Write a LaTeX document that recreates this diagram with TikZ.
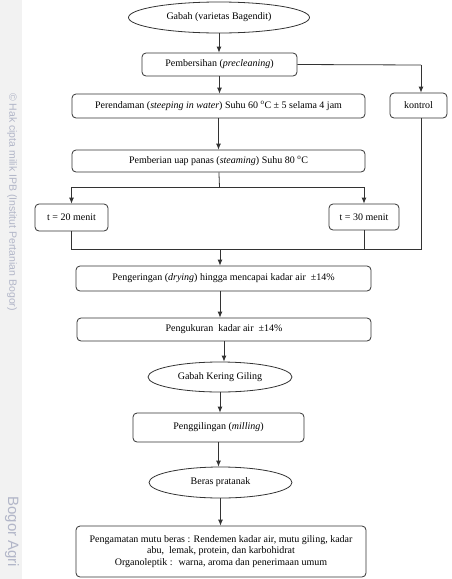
\documentclass[tikz,border=0pt]{standalone}
\usepackage{fontspec}
\setmainfont{Liberation Serif}
\newfontfamily\wmfont{Liberation Sans}
\usetikzlibrary{arrows.meta,shapes}
\definecolor{wmgray}{RGB}{242,242,242}
\definecolor{wmtext}{RGB}{178,182,200}
\tikzstyle{proses}=[draw=black!80,rounded corners=4pt,inner sep=1pt,align=center,font=\fontsize{10}{11.5}\selectfont]
\tikzstyle{produk}=[ellipse,draw=black!80,inner sep=0pt,font=\fontsize{10}{11.5}\selectfont]
\tikzstyle{edge} = [draw,black!80,-{Latex[length=6pt,width=5pt]}]
\tikzstyle{garis} = [draw,black!80]
\tikzstyle{watermark} = [wmtext,rotate=-90,inner sep=0pt]

\begin{document}
\begin{tikzpicture}[x=1pt,y=-1pt,line width=0.8pt]

    \useasboundingbox (0,0) rectangle (451,579);

    % watermark strip
    \fill[wmgray] (0,0) rectangle (22,579);
    \node[watermark,font=\wmfont\fontsize{10.5}{12}\selectfont] (hakcipta) at (12,202) {\textcopyright\ Hak cipta milik IPB (Institut Pertanian Bogor)};
    \node[watermark,font=\wmfont\fontsize{15}{17}\selectfont,anchor=west] (bogor) at (12,496) {Bogor Agri};

    % ellipses
    \foreach \name/\x/\y/\w/\h/\teks in {gabah/219/17.5/181/31/{Gabah (varietas Bagendit)},
        gkg/220/377/144/30/{Gabah Kering Giling},
        beras/220.5/482.5/143/31/{Beras pratanak}}
        \node[produk, minimum width=\w, minimum height=\h] (\name) at (\x,\y) {\teks};

    % process boxes
    \foreach \name/\x/\y/\w/\h/\teks in {bersih/219.5/64.5/155/23/{Pembersihan (\textit{precleaning})},
        rendam/218.5/106/293/24/{Perendaman (\textit{steeping in water}) Suhu 60 \textsuperscript{o}C ± 5 selama 4 jam},
        kontrol/418.5/105.5/57/25/{kontrol},
        uap/218.5/161/293/22/{Pemberian uap panas (\textit{steaming}) Suhu 80 \textsuperscript{o}C},
        t20/71.5/217.5/73/27/{t = 20 menit},
        t30/364/217/70/26/{t = 30 menit},
        kering/223.5/278.5/295/25/{Pengeringan (\textit{drying}) hingga mencapai kadar air \ ±14\%},
        ukur/224/329.5/294/23/{Pengukuran \ kadar air \ ±14\%},
        giling/218.5/427.5/171/29/{Penggilingan (\textit{milling})},
        amat/221/551.5/290/51/{Pengamatan mutu beras : Rendemen kadar air, mutu giling, kadar\\abu, \ lemak, protein, dan karbohidrat\\Organoleptik : \ warna, aroma dan penerimaan umum}}
        \node[proses, minimum width=\w, minimum height=\h] (\name) at (\x,\y) {\teks};

    \coordinate (cabang) at (219.5,187);
    \coordinate (gabung) at (220,249);
    \coordinate (belok) at (421,65);

    % main column
    \foreach \source/ \dest in {gabah/bersih, bersih/rendam, rendam/uap, ukur/gkg, gkg/giling, giling/beras, beras/amat}
        \path[edge] (\source) -- (\source |- \dest.north);
    \path[edge] (kering.south -| gabung) -- (gabung |- ukur.north);

    % control branch
    \path[garis] (bersih.east) -- (belok);
    \path[edge] (belok) -- (belok |- kontrol.north);
    \path[garis] (belok |- kontrol.south) |- (gabung);

    % steaming time branch
    \path[garis] (uap) -- (cabang);
    \path[edge] (cabang) -| (t20);
    \path[edge] (cabang) -| (t30);
    \path[garis] (t20) |- (gabung);
    \path[garis] (t30) |- (gabung);
    \path[edge] (gabung) -- (gabung |- kering.north);

\end{tikzpicture}
\end{document}
